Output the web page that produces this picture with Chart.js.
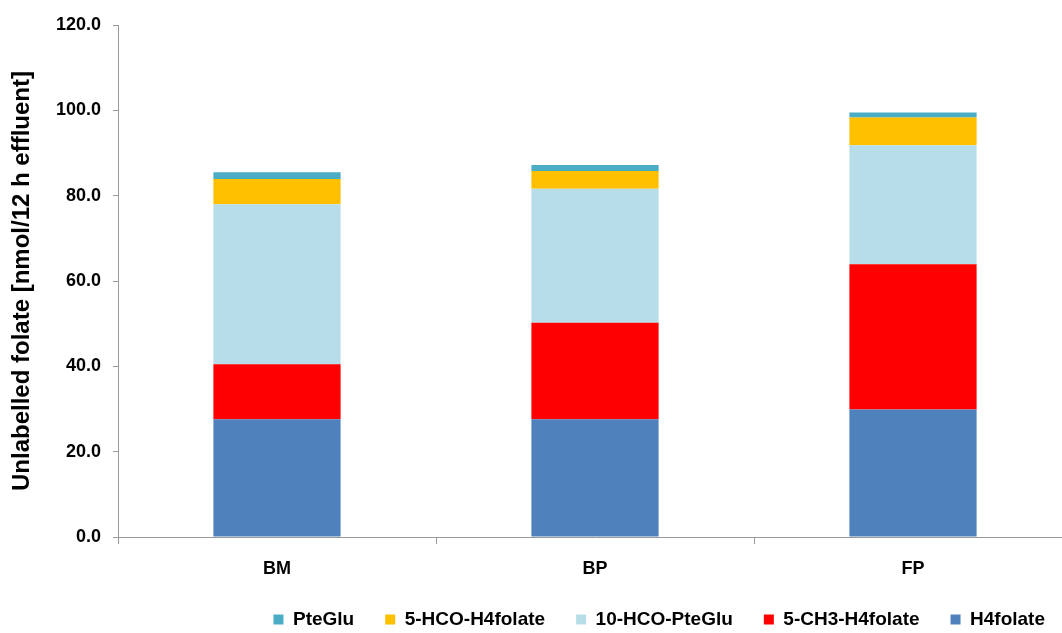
<!DOCTYPE html>
<html>
<head>
<meta charset="utf-8">
<script src="https://cdn.jsdelivr.net/npm/chart.js@4"></script>
<style>
  html, body { margin: 0; padding: 0; background: #fff; overflow: hidden; }
  #wrap { width: 1076px; height: 642px; position: relative; }
</style>
</head>
<body>
<div id="wrap"><canvas id="chart"></canvas></div>
<script>
const categories = ['BM', 'BP', 'FP'];

// stacked bottom to top
const h4folate    = [27.6, 27.6, 29.9];
const ch3H4folate = [12.9, 22.6, 34.0];
const hcoPteGlu10 = [37.5, 31.4, 27.9];
const hcoH4folate = [5.9, 4.2, 6.5];
const pteGlu      = [1.6, 1.4, 1.2];

const yTicks = [0, 20, 40, 60, 80, 100, 120];

const FONT = "'Liberation Sans', Arial, sans-serif";

function makeSet(label, data, color) {
  return { label, data, backgroundColor: color, borderWidth: 0, barPercentage: 0.4, categoryPercentage: 1.0 };
}

new Chart(document.getElementById('chart'), {
  type: 'bar',
  data: {
    labels: categories,
    datasets: [
      makeSet('H4folate', h4folate, '#4F81BD'),
      makeSet('5-CH3-H4folate', ch3H4folate, '#FF0000'),
      makeSet('10-HCO-PteGlu', hcoPteGlu10, '#B7DEE8'),
      makeSet('5-HCO-H4folate', hcoH4folate, '#FFC000'),
      makeSet('PteGlu', pteGlu, '#4BACC6')
    ]
  },
  options: {
    responsive: true,
    maintainAspectRatio: false,
    animation: false,
    layout: { padding: { top: 25, left: 4, right: 0, bottom: 3 } },
    plugins: {
      tooltip: { enabled: false },
      legend: {
        position: 'bottom',
        align: 'end',
        reverse: true,
        labels: {
          color: '#000',
          font: { family: FONT, size: 19, weight: 'bold' },
          boxWidth: 10,
          boxHeight: 10,
          padding: 31
        }
      }
    },
    scales: {
      x: {
        stacked: true,
        afterFit: axis => { axis.height = 42; },
        grid: { drawOnChartArea: false, color: '#999', tickLength: 7 },
        border: { color: '#999' },
        ticks: { color: '#000', font: { family: FONT, size: 18, weight: 'bold' }, padding: 14 }
      },
      y: {
        stacked: true,
        min: 0,
        max: 120,
        afterBuildTicks: axis => { axis.ticks = yTicks.map(v => ({ value: v })); },
        afterFit: axis => { axis.width = 114; },
        grid: { drawOnChartArea: false, color: '#999', tickLength: 5 },
        border: { color: '#999' },
        ticks: {
          color: '#000',
          font: { family: FONT, size: 18, weight: 'bold' },
          padding: 12,
          callback: v => Number(v).toFixed(1)
        },
        title: {
          display: true,
          text: 'Unlabelled folate [nmol/12 h effluent]',
          color: '#000',
          font: { family: FONT, size: 24, weight: 'bold' },
          padding: { top: 4, bottom: 4 }
        }
      },
      // empty spacer so the plot stops where the reference's does
      yRight: {
        position: 'right',
        afterFit: axis => { axis.width = 4; },
        grid: { display: false },
        border: { display: false },
        ticks: { display: false }
      }
    }
  }
});
</script>
</body>
</html>
